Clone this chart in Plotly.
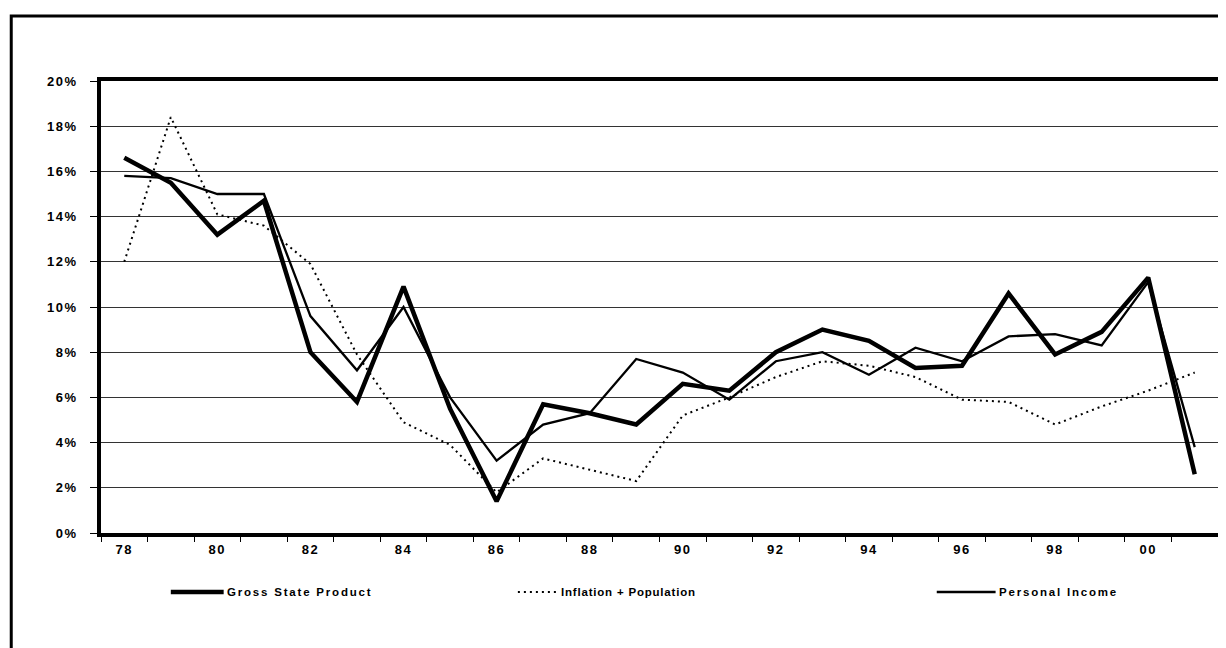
import plotly.graph_objects as go

# ---- data ----
years = [1978, 1979, 1980, 1981, 1982, 1983, 1984, 1985, 1986, 1987, 1988, 1989,
         1990, 1991, 1992, 1993, 1994, 1995, 1996, 1997, 1998, 1999, 2000, 2001]
tick_years = [1978, 1980, 1982, 1984, 1986, 1988, 1990, 1992, 1994, 1996, 1998, 2000]
tick_labels = ["78", "80", "82", "84", "86", "88", "90", "92", "94", "96", "98", "00"]
pct_ticks = [0, 2, 4, 6, 8, 10, 12, 14, 16, 18, 20]

gross_state_product = [16.6, 15.5, 13.2, 14.7, 8.0, 5.8, 10.9, 5.5, 1.4, 5.7, 5.3, 4.8,
                       6.6, 6.3, 8.0, 9.0, 8.5, 7.3, 7.4, 10.6, 7.9, 8.9, 11.3, 2.6]
inflation_population = [12.0, 18.4, 14.1, 13.6, 11.9, 7.9, 4.9, 3.9, 1.8, 3.3, 2.8, 2.3,
                        5.2, 6.0, 6.9, 7.6, 7.4, 6.9, 5.9, 5.8, 4.8, 5.6, 6.3, 7.1]
personal_income = [15.8, 15.7, 15.0, 15.0, 9.6, 7.2, 10.0, 6.0, 3.2, 4.8, 5.3, 7.7,
                   7.1, 5.9, 7.6, 8.0, 7.0, 8.2, 7.6, 8.7, 8.8, 8.3, 11.1, 3.8]

series_names = ["Gross State Product", "Inflation + Population", "Personal Income"]
series_values = [gross_state_product, inflation_population, personal_income]
series_styles = [dict(width=4.5, dash="solid"),
                 dict(width=2, dash="2px,4px"),
                 dict(width=2.3, dash="solid")]
legend_spacing = [1.8, 0.8, 1.8]

W, H = 1226, 648
L, R, T, B = 93, 13, 73, 123
pw, ph = W - L - R, H - T - B

def px_x(X):
    return (X - L) / pw

def px_y(Y):
    return (H - B - Y) / ph

def spaced(s, sp):
    return '<span style="letter-spacing:%spx">%s</span>' % (sp, s)

fig = go.Figure()
for name, vals, st in zip(series_names, series_values, series_styles):
    fig.add_trace(go.Scatter(x=years, y=vals, mode="lines", name=name,
                             line=dict(color="black", width=st["width"], dash=st["dash"]),
                             showlegend=False))

# custom legend
legend_line_x = [(163, 216), (511, 551), (931, 990)]
legend_y = 584
shapes = []
annotations = []
for (x0, x1), name, st, sp in zip(legend_line_x, series_names, series_styles, legend_spacing):
    shapes.append(dict(type="line", xref="paper", yref="paper",
                       x0=px_x(x0), x1=px_x(x1), y0=px_y(legend_y), y1=px_y(legend_y),
                       line=dict(color="black", width=st["width"], dash=st["dash"])))
    annotations.append(dict(xref="paper", yref="paper", x=px_x(x1 + 1), y=px_y(legend_y),
                            xanchor="left", yanchor="middle", showarrow=False,
                            text=spaced(name, sp),
                            font=dict(family="Liberation Sans, Arial", size=11.5, color="black",
                                      weight="bold")))

# outer border
shapes.append(dict(type="rect", xref="paper", yref="paper",
                   x0=px_x(3), x1=px_x(1223), y0=px_y(8), y1=px_y(646),
                   line=dict(color="black", width=3), fillcolor="rgba(0,0,0,0)", layer="below"))

tickfont = dict(family="Liberation Sans, Arial", size=13, color="black", weight="bold")

fig.update_layout(
    width=W, height=H,
    margin=dict(l=L, r=R, t=T, b=B, pad=0),
    paper_bgcolor="white", plot_bgcolor="white",
    shapes=shapes, annotations=annotations,
    xaxis=dict(range=[1977.5, 2001.5], tickvals=tick_years,
               ticktext=[spaced(t, 1.5) for t in tick_labels],
               showgrid=False, zeroline=False, showline=True, mirror=True,
               linecolor="black", linewidth=3.5,
               ticks="outside", ticklen=0, tickcolor="rgba(0,0,0,0)",
               minor=dict(ticks="outside", ticklen=5, tickcolor="black", tickwidth=1,
                          tick0=1977.5, dtick=1, showgrid=False),
               tickfont=tickfont, ticklabelstandoff=2),
    yaxis=dict(range=[0, 20], tickvals=pct_ticks,
               ticktext=[spaced("%d%%" % v, 1.5) for v in pct_ticks],
               showgrid=True, gridcolor="#333333", gridwidth=1, zeroline=False,
               showline=True, mirror=True, linecolor="black", linewidth=3.5,
               ticks="outside", ticklen=7, tickcolor="black", tickwidth=1,
               tickfont=tickfont, ticklabelstandoff=10),
)

fig.write_html("out.html")
